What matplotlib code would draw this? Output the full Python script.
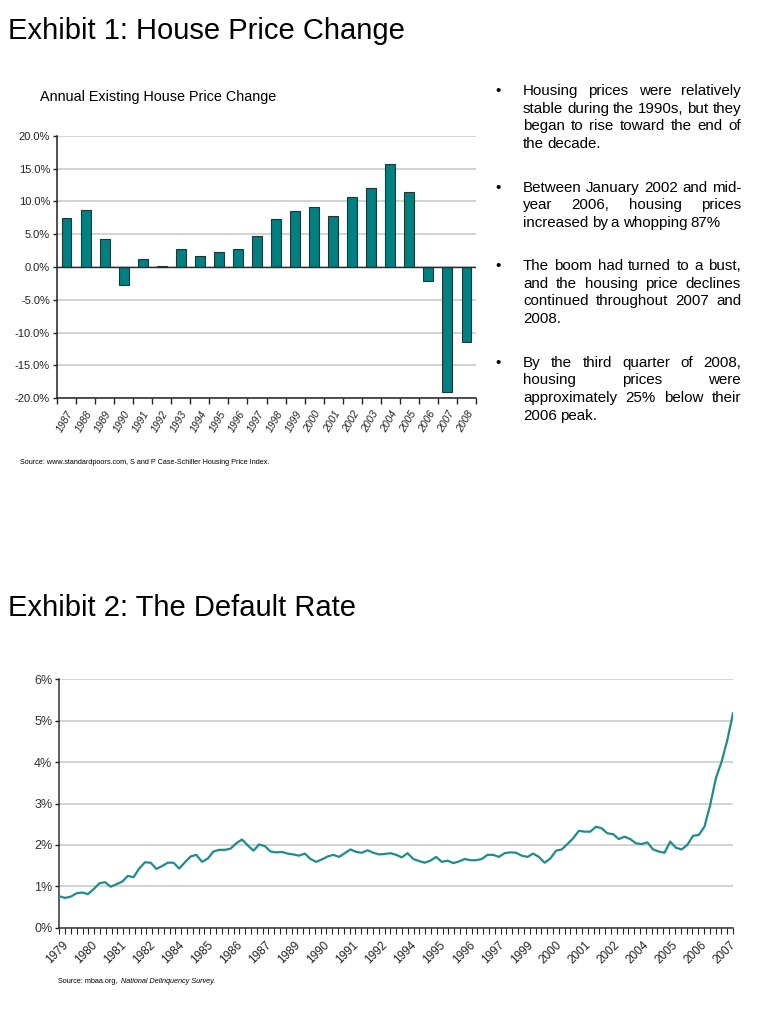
import numpy as np
import matplotlib
matplotlib.use('Agg')
import matplotlib.pyplot as plt
from matplotlib.ticker import FixedLocator, NullFormatter

plt.rcParams['font.family'] = ['Liberation Sans', 'DejaVu Sans']
NARROW = ['Liberation Sans Narrow', 'Liberation Sans', 'DejaVu Sans']

# Exhibit 1 data: annual existing house price change (%)
years_top = [str(y) for y in range(1987, 2009)]
price_change = [7.4, 8.7, 4.3, -2.8, 1.2, 0.15, 2.75, 1.7, 2.3, 2.75, 4.7,
                7.35, 8.6, 9.2, 7.8, 10.6, 12.0, 15.7, 11.5, -2.2, -19.0, -11.4]

# Exhibit 2 data: default rate (%), read along the curve 1979Q1 -> 2007Q4
default_rate = [0.76, 0.72, 0.75, 0.83, 0.85, 0.81, 0.93, 1.07, 1.10, 0.99,
                1.05, 1.11, 1.25, 1.22, 1.43, 1.58, 1.57, 1.42, 1.49, 1.57,
                1.57, 1.43, 1.58, 1.72, 1.76, 1.59, 1.67, 1.84, 1.88, 1.88,
                1.91, 2.04, 2.13, 1.99, 1.86, 2.01, 1.97, 1.84, 1.82, 1.83,
                1.79, 1.77, 1.74, 1.79, 1.66, 1.59, 1.65, 1.72, 1.76, 1.71,
                1.80, 1.89, 1.83, 1.81, 1.87, 1.81, 1.77, 1.78, 1.80,
                1.76, 1.70, 1.80, 1.66, 1.61, 1.57, 1.62, 1.71, 1.59, 1.62,
                1.56, 1.60, 1.66, 1.63, 1.63, 1.66, 1.76, 1.76, 1.71, 1.80,
                1.82, 1.81, 1.74, 1.71, 1.79, 1.71, 1.57, 1.67, 1.86, 1.89,
                2.02, 2.16, 2.34, 2.32, 2.32, 2.44, 2.40, 2.28, 2.26, 2.14,
                2.20, 2.14, 2.04, 2.02, 2.06, 1.89, 1.84, 1.81, 2.08, 1.93,
                1.89, 2.00, 2.22, 2.24, 2.44, 2.96, 3.61, 4.01, 4.53, 5.18]
n_quarters = 116
quarter_labels = ['1979', '1980', '1981', '1982', '1984', '1985', '1986', '1987',
                  '1989', '1990', '1991', '1992', '1994', '1995', '1996', '1997',
                  '1999', '2000', '2001', '2002', '2004', '2005', '2006', '2007']

bullets = [
    ["Housing prices were relatively",
     "stable during the 1990s, but they",
     "began to rise toward the end of",
     "the decade."],
    ["Between January 2002 and mid-",
     "year 2006, housing prices",
     "increased by a whopping 87%"],
    ["The boom had turned to a bust,",
     "and the housing price declines",
     "continued throughout 2007 and",
     "2008."],
    ["By the third quarter of 2008,",
     "housing prices were",
     "approximately 25% below their",
     "2006 peak."],
]
bullet_y = [95, 191.7, 270, 366.7]

W, H = 768, 1024
fig = plt.figure(figsize=(W / 100, H / 100), dpi=100)


def fx(px):
    return px / W


def fy(py):
    return 1 - py / H


#Titles
fig.text(fx(8), fy(39), "Exhibit 1: House Price Change", fontsize=21, va='baseline')
fig.text(fx(40.5), fy(101), "Annual Existing House Price Change", fontsize=10.4, va='baseline')
fig.text(fx(8), fy(616), "Exhibit 2: The Default Rate", fontsize=21, va='baseline')

#################################################
# Exhibit 1 bar chart
ax1 = fig.add_axes([fx(57), fy(398.3), fx(476) - fx(57), (398.3 - 135.7) / H])
xpos = np.arange(len(price_change))
ax1.bar(xpos, price_change, width=0.52, color='#008080', edgecolor='#1c3535',
        linewidth=0.8, zorder=3)
ax1.axhline(0, color='#2b2b2b', lw=1.0, zorder=4)
ax1.set_ylim(-20, 20)
ax1.set_xlim(-0.5, len(price_change) - 0.5)
ax1.set_yticks(np.arange(-20, 21, 5))
ax1.set_yticklabels(['%.1f%%' % v for v in np.arange(-20, 21, 5)],
                    fontsize=8, family=NARROW, color='#222222')
ax1.yaxis.grid(True, color='#c8c8c8', lw=1.1, zorder=0)
ax1.xaxis.set_major_locator(FixedLocator(np.arange(-0.5, len(price_change), 1)))
ax1.xaxis.set_major_formatter(NullFormatter())
ax1.xaxis.set_minor_locator(FixedLocator(xpos))
ax1.set_xticklabels(years_top, minor=True, rotation=60, ha='right', va='top',
                    rotation_mode='anchor', fontsize=7.5, family=NARROW,
                    style='italic', color='#222222')
ax1.tick_params(axis='x', which='minor', length=0, pad=8)
ax1.tick_params(axis='x', which='major', length=4, width=1, color='#222222')
ax1.tick_params(axis='y', length=3, width=1, color='#222222', pad=2)
for s in ['top', 'right']:
    ax1.spines[s].set_visible(False)
for s in ['left', 'bottom']:
    ax1.spines[s].set_color('#222222')
    ax1.spines[s].set_linewidth(1.1)

fig.text(fx(20), fy(464), "Source: www.standardpoors.com, S and P Case-Schiller Housing Price Index.",
         fontsize=5.2, va='baseline', family=NARROW)

#################################################
# Bullets with justified lines
renderer = fig.canvas.get_renderer()
x_left, x_right = 523, 741
line_h = 17.7
fs = 10.9
for para, y0 in zip(bullets, bullet_y):
    fig.text(fx(495), fy(y0), u"\u2022", fontsize=fs, va='baseline')
    for k, line in enumerate(para):
        y = y0 + k * line_h
        words = line.split()
        texts = [fig.text(0, fy(y), w, fontsize=fs, va='baseline', color='black') for w in words]
        widths = [t.get_window_extent(renderer).width for t in texts]
        if k == len(para) - 1 or len(words) == 1:
            gap = 3.3
        else:
            gap = (x_right - x_left - sum(widths)) / (len(words) - 1)
        x = x_left
        for t, w in zip(texts, widths):
            t.set_x(fx(x))
            x += w + gap

#################################################
# Exhibit 2 line chart
ax2 = fig.add_axes([fx(59.3), fy(927.7), fx(733) - fx(59.3), (927.7 - 679.3) / H])
xq = np.linspace(0, n_quarters, len(default_rate))
ax2.plot(xq, default_rate, color='#1f8c8c', lw=1.6, zorder=3)
ax2.set_xlim(0, n_quarters)
ax2.set_ylim(0, 6)
ax2.set_yticks(range(0, 7))
ax2.set_yticklabels(['%d%%' % v for v in range(0, 7)], fontsize=9, color='#333333')
ax2.yaxis.grid(True, color='#c8c8c8', lw=1.1, zorder=0)
ax2.xaxis.set_major_locator(FixedLocator(np.arange(0, n_quarters + 1)))
ax2.xaxis.set_major_formatter(NullFormatter())
ax2.xaxis.set_minor_locator(FixedLocator(np.arange(len(quarter_labels)) * 5 + 0.5))
ax2.set_xticklabels(quarter_labels, minor=True, rotation=45, ha='right', va='top',
                    rotation_mode='anchor', fontsize=8.5, color='#222222')
ax2.tick_params(axis='x', which='minor', length=0, pad=8)
ax2.tick_params(axis='x', which='major', length=4, width=0.8, color='#222222')
ax2.tick_params(axis='y', length=3, width=1, color='#222222', pad=2)
for s in ['top', 'right']:
    ax2.spines[s].set_visible(False)
for s in ['left', 'bottom']:
    ax2.spines[s].set_color('#333333')
    ax2.spines[s].set_linewidth(1.1)

src1 = fig.text(fx(58), fy(983), "Source: mbaa.org, ", fontsize=5.2, va='baseline', family=NARROW)
w1 = src1.get_window_extent(renderer).width
fig.text(fx(58 + w1 + 2), fy(983), "National Delinquency Survey.", fontsize=5.2, va='baseline',
         family=NARROW, style='italic')

fig.savefig('out.png', dpi=100)
